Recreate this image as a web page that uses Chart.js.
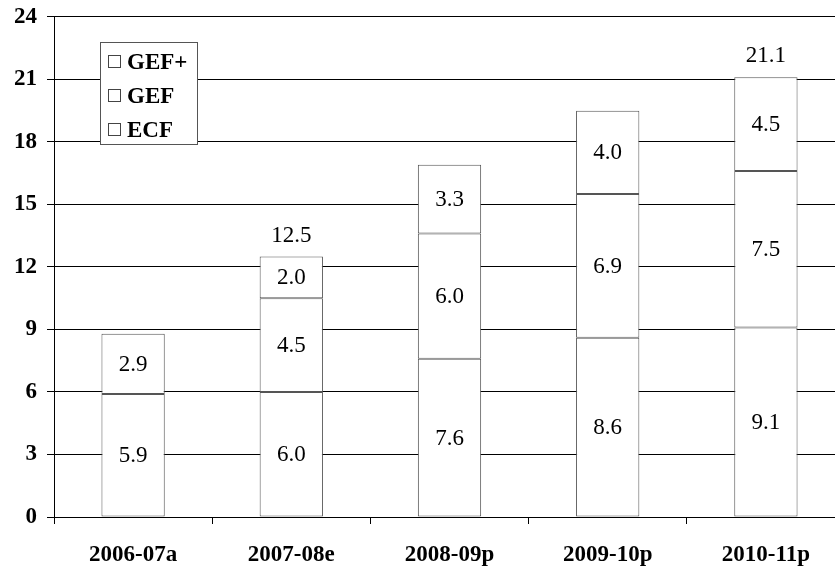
<!DOCTYPE html>
<html>
<head>
<meta charset="utf-8">
<script src="https://cdn.jsdelivr.net/npm/chart.js@4/dist/chart.umd.min.js"></script>
<style>
html,body{margin:0;padding:0;background:#fff;overflow:hidden;width:835px;height:569px;}
#wrap{width:845px;height:569px;position:relative;}
</style>
</head>
<body>
<div id="wrap"><canvas id="c" width="845" height="569"></canvas></div>
<script>
const categories = ["2006-07a", "2007-08e", "2008-09p", "2009-10p", "2010-11p"];
const ecf = [5.9, 6.0, 7.6, 8.6, 9.1];
const gef = [2.9, 4.5, 6.0, 6.9, 7.5];
const gefPlus = [null, 2.0, 3.3, 4.0, 4.5];
const totalLabels = [null, "12.5", null, null, "21.1"];
const yTicks = [0, 3, 6, 9, 12, 15, 18, 21, 24];
const legendLabels = ["GEF+", "GEF", "ECF"];

const FONT = "'Liberation Serif', serif";

const labelPlugin = {
  id: 'labels',
  afterDatasetsDraw(chart) {
    const ctx = chart.ctx;
    ctx.save();
    ctx.fillStyle = '#000';
    ctx.textAlign = 'center';
    ctx.textBaseline = 'middle';
    ctx.font = "23px " + FONT;
    chart.data.datasets.forEach((ds, i) => {
      const meta = chart.getDatasetMeta(i);
      meta.data.forEach((el, j) => {
        const v = ds.data[j];
        if (v === null || v === undefined) return;
        const p = el.getCenterPoint();
        ctx.fillText(v.toFixed(1), p.x, p.y + 1);
      });
    });
    const yScale = chart.scales.y;
    const xScale = chart.scales.x;
    totalLabels.forEach((t, j) => {
      if (!t) return;
      const tot = (ecf[j] || 0) + (gef[j] || 0) + (gefPlus[j] || 0);
      ctx.fillText(t, xScale.getPixelForValue(j), yScale.getPixelForValue(tot) - 21);
    });
    const x0 = 100, y0 = 42, w = 97, h = 102;
    ctx.fillStyle = '#fff';
    ctx.fillRect(x0, y0, w, h);
    ctx.strokeStyle = '#555';
    ctx.lineWidth = 1;
    ctx.strokeRect(x0 + 0.5, y0 + 0.5, w, h);
    ctx.textAlign = 'left';
    ctx.font = "bold 23px " + FONT;
    legendLabels.forEach((lab, k) => {
      const cy = 62 + k * 34;
      ctx.strokeStyle = '#444';
      ctx.strokeRect(108.5, cy - 6.5, 12, 12);
      ctx.fillStyle = '#000';
      ctx.fillText(lab, 127, cy + 1);
    });
    ctx.restore();
  }
};

function build() {
  new Chart(document.getElementById('c'), {
    type: 'bar',
    data: {
      labels: categories,
      datasets: [
        { label: 'ECF', data: ecf },
        { label: 'GEF', data: gef },
        { label: 'GEF+', data: gefPlus }
      ].map(d => Object.assign(d, {
        backgroundColor: '#fff',
        borderColor: '#555',
        borderWidth: 1,
        borderSkipped: false,
        categoryPercentage: 1.0,
        barPercentage: 0.4
      }))
    },
    options: {
      responsive: false,
      animation: false,
      devicePixelRatio: 1,
      layout: { padding: { top: 16, right: 0, left: 0, bottom: 0 } },
      plugins: { legend: { display: false }, tooltip: { enabled: false } },
      scales: {
        x: {
          stacked: true,
          offset: true,
          grid: { display: true, drawOnChartArea: false, offset: true, tickLength: 7, color: '#000' },
          border: { color: '#000', width: 1 },
          ticks: { color: '#000', font: { family: FONT, size: 23, weight: 'bold' }, padding: 17 },
          afterFit(s) { s.height = 52; }
        },
        y: {
          stacked: true,
          min: 0, max: 24,
          afterBuildTicks(s) { s.ticks = yTicks.map(v => ({ value: v })); },
          grid: { color: '#000', tickLength: 7, lineWidth: 1 },
          border: { color: '#000', width: 1 },
          ticks: { color: '#000', font: { family: FONT, size: 23, weight: 'bold', lineHeight: 0.6 }, padding: 10 },
          afterFit(s) { s.width = 54; }
        }
      }
    },
    plugins: [labelPlugin]
  });
}
if (document.fonts && document.fonts.load) {
  Promise.all([
    document.fonts.load("bold 23px 'Liberation Serif'"),
    document.fonts.load("23px 'Liberation Serif'")
  ]).then(build, build);
} else { build(); }
</script>
</body>
</html>
